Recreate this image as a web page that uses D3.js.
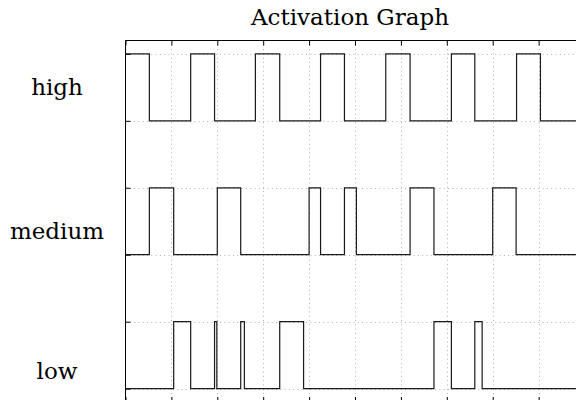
<!DOCTYPE html>
<html>
<head>
<meta charset="utf-8">
<script src="https://cdn.jsdelivr.net/npm/d3@7"></script>
<style>
  html, body { margin: 0; padding: 0; background: #fff; }
  svg { display: block; }
</style>
</head>
<body>
<svg id="chart" width="576" height="400"></svg>
<script>
// ---- data ----
const title = "Activation Graph";
const seriesNames = ["low", "medium", "high"];
const seriesOffsets = [0, 2, 4];
const labelLevels = [0.27, 2.36, 4.5];

const lowTimes    = [0, 1.05, 1.42, 1.94, 1.99, 2.51, 2.59, 3.36, 3.88, 6.72, 7.10, 7.61, 7.77, 9.82];
const lowStates   = [0, 1,    0,    1,    0,    1,    0,    1,    0,    1,    0,    1,    0,    0];
const mediumTimes = [0, 0.52, 1.05, 2.00, 2.51, 4.00, 4.25, 4.77, 5.03, 6.20, 6.72, 8.00, 8.51, 9.82];
const mediumStates= [0, 1,    0,    1,    0,    1,    0,    1,    0,    1,    0,    1,    0,    0];
const highTimes   = [0, 0.52, 1.42, 1.94, 2.83, 3.36, 4.25, 4.77, 5.67, 6.20, 7.10, 7.61, 8.52, 9.04, 9.82];
const highStates  = [1, 0,    1,    0,    1,    0,    1,    0,    1,    0,    1,    0,    1,    0,    0];

const xTicks = [0, 1, 2, 3, 4, 5, 6, 7, 8, 9];
const yTicks = [0, 1, 2, 3, 4, 5];

// ---- layout ----
const svg = d3.select("#chart");
const mLeft = 125.5, mTop = 40.5, mRight = 578, mBottom = 402;
const x = d3.scaleLinear().domain([0, 9.82]).range([mLeft, mLeft + 9.82 * 45.9]);
const y = d3.scaleLinear().domain([-0.2, 5.2]).range([mBottom, mTop]);

const fontFam = "'DejaVu Serif', serif";

// grid
const g = svg.append("g");
g.selectAll("line.vg").data(xTicks.filter(d => d > 0)).join("line")
  .attr("x1", d => Math.round(x(d)) + 0.5).attr("x2", d => Math.round(x(d)) + 0.5)
  .attr("y1", mTop).attr("y2", mBottom)
  .attr("stroke", "#b0b0b0").attr("stroke-width", 1).attr("stroke-dasharray", "1,3.3");
g.selectAll("line.hg").data(yTicks).join("line")
  .attr("y1", d => Math.round(y(d)) + 0.5).attr("y2", d => Math.round(y(d)) + 0.5)
  .attr("x1", mLeft).attr("x2", mRight)
  .attr("stroke", "#b0b0b0").attr("stroke-width", 1).attr("stroke-dasharray", "1,3.3");

// axes (ticks inward)
const xTopAxis = d3.axisBottom(x).tickValues(xTicks).tickSize(5).tickFormat("");
const xBotAxis = d3.axisTop(x).tickValues(xTicks).tickSize(5).tickFormat("");
const yLeftAxis = d3.axisRight(y).tickValues(yTicks).tickSize(5).tickFormat("");
const ax1 = svg.append("g").attr("transform", `translate(0,${mTop})`).call(xTopAxis);
const ax2 = svg.append("g").attr("transform", `translate(0,${mBottom})`).call(xBotAxis);
const ax3 = svg.append("g").attr("transform", `translate(${mLeft},0)`).call(yLeftAxis);
[ax1, ax2, ax3].forEach(a => {
  a.select(".domain").remove();
  a.selectAll("line").attr("stroke", "#000").attr("stroke-width", 1);
});

// frame
svg.append("line").attr("x1", mLeft).attr("x2", mRight).attr("y1", mTop).attr("y2", mTop)
  .attr("stroke", "#000").attr("stroke-width", 1);
svg.append("line").attr("x1", mLeft).attr("x2", mLeft).attr("y1", mTop).attr("y2", mBottom)
  .attr("stroke", "#000").attr("stroke-width", 1);

// signals
const series = [
  { t: lowTimes, v: lowStates, off: seriesOffsets[0] },
  { t: mediumTimes, v: mediumStates, off: seriesOffsets[1] },
  { t: highTimes, v: highStates, off: seriesOffsets[2] }
];
const line = d3.line().curve(d3.curveStepAfter)
  .x(d => x(d[0])).y(d => y(d[1]));
series.forEach(s => {
  const pts = s.t.map((t, i) => [t, s.v[i] + s.off]);
  svg.append("path").datum(pts)
    .attr("d", line)
    .attr("fill", "none").attr("stroke", "#1a1a1a").attr("stroke-width", 1.2);
});

// labels
svg.selectAll("text.lab").data(seriesNames).join("text")
  .attr("class", "lab")
  .attr("x", 57).attr("y", (d, i) => y(labelLevels[i]) + 8)
  .attr("text-anchor", "middle")
  .attr("font-family", fontFam).attr("font-size", 23)
  .attr("fill", "#000")
  .text(d => d);

// title
svg.append("text").attr("x", 350).attr("y", 25)
  .attr("text-anchor", "middle")
  .attr("font-family", fontFam).attr("font-size", 23).attr("fill", "#000")
  .text(title);
</script>
</body>
</html>
